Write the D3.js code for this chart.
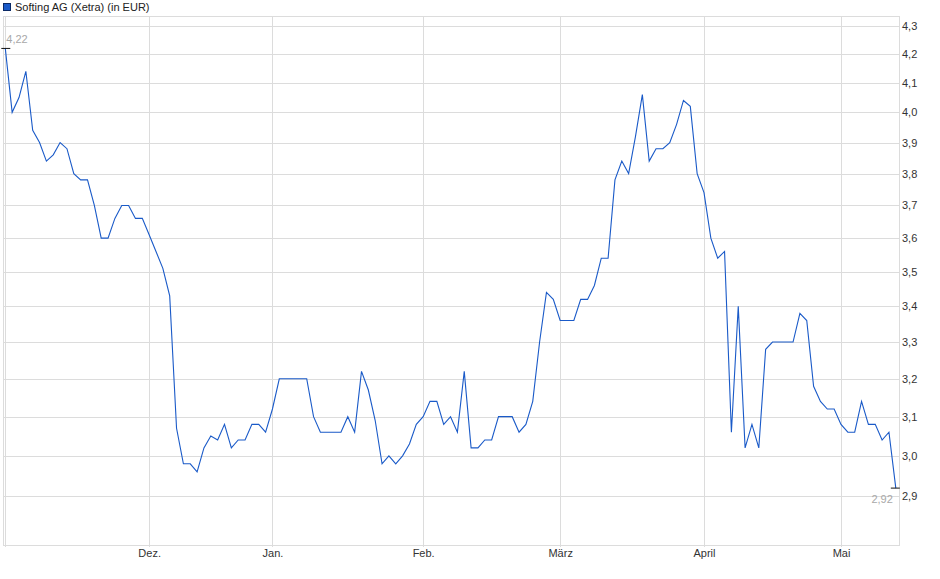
<!DOCTYPE html>
<html>
<head>
<meta charset="utf-8">
<script src="https://cdn.jsdelivr.net/npm/d3@7"></script>
<style>
    body { margin: 0; background: #fff; }
    svg { display: block; font-family: "Liberation Sans", Arial, sans-serif; }
    .grid-line { stroke: #dcdcdc; stroke-width: 1; shape-rendering: crispEdges; }
    .frame { fill: none; stroke: #dcdcdc; stroke-width: 1; shape-rendering: crispEdges; }
    .axis text { fill: #333; font-size: 11px; }
    .axis path, .axis line { display: none; }
    .price-line { fill: none; stroke: #1a5ac8; stroke-width: 1.1; }
    .mark-label { fill: #a8a8a8; font-size: 11px; }
</style>
</head>
<body>
<div id="chart"></div>
<script>
// Softing AG (Xetra), daily closes, 01.11. - 14.05. (trading days)
const title = "Softing AG (Xetra) (in EUR)";

const closes = [
    4.22, 4.00, 4.05, 4.14, 3.94, 3.90, 3.84, 3.86, 3.90, 3.88,
    3.80, 3.78, 3.78, 3.70, 3.60, 3.60, 3.66, 3.70, 3.70, 3.66,
    3.66, 3.61, 3.56, 3.51, 3.43, 3.07, 2.98, 2.98, 2.96, 3.02,
    3.05, 3.04, 3.08, 3.02, 3.04, 3.04, 3.08, 3.08, 3.06, 3.12,
    3.20, 3.20, 3.20, 3.20, 3.20, 3.10, 3.06, 3.06, 3.06, 3.06,
    3.10, 3.06, 3.22, 3.17, 3.09, 2.98, 3.00, 2.98, 3.00, 3.03,
    3.08, 3.10, 3.14, 3.14, 3.08, 3.10, 3.06, 3.22, 3.02, 3.02,
    3.04, 3.04, 3.10, 3.10, 3.10, 3.06, 3.08, 3.14, 3.30, 3.44,
    3.42, 3.36, 3.36, 3.36, 3.42, 3.42, 3.46, 3.54, 3.54, 3.78,
    3.84, 3.80, 3.92, 4.06, 3.84, 3.88, 3.88, 3.90, 3.96, 4.04,
    4.02, 3.80, 3.74, 3.60, 3.54, 3.56, 3.06, 3.40, 3.02, 3.08,
    3.02, 3.28, 3.30, 3.30, 3.30, 3.30, 3.38, 3.36, 3.18, 3.14,
    3.12, 3.12, 3.08, 3.06, 3.06, 3.14, 3.08, 3.08, 3.04, 3.06,
    2.92
];

// first trading day of each month (index into closes)
const monthStarts = [0, 21, 39, 61, 81, 102, 122];
const monthLabels = ["", "Dez.", "Jan.", "Feb.", "März", "April", "Mai"];

const priceTicks = [2.9, 3.0, 3.1, 3.2, 3.3, 3.4, 3.5, 3.6, 3.7, 3.8, 3.9, 4.0, 4.1, 4.2, 4.3];

const width = 940, height = 579;
const plot = { left: 3, right: 899, top: 16, bottom: 545 };

const svg = d3.select("#chart").append("svg")
    .attr("width", width)
    .attr("height", height);

const x = d3.scaleLinear()
    .domain([0, closes.length - 1])
    .range([5.3, 895.8]);

// log price axis
const y = d3.scaleLog()
    .domain([2.9, 4.3])
    .range([496.3, 26]);

const fmt = v => d3.format(".1f")(v).replace(".", ",");
const fmt2 = v => d3.format(".2f")(v).replace(".", ",");

// grid
svg.append("g").selectAll("line")
    .data(priceTicks)
    .enter().append("line")
    .attr("class", "grid-line")
    .attr("x1", plot.left)
    .attr("x2", plot.right)
    .attr("y1", d => Math.round(y(d)) + 0.5)
    .attr("y2", d => Math.round(y(d)) + 0.5);

svg.append("g").selectAll("line")
    .data(monthStarts)
    .enter().append("line")
    .attr("class", "grid-line")
    .attr("x1", d => Math.round(x(d)) + 0.5)
    .attr("x2", d => Math.round(x(d)) + 0.5)
    .attr("y1", plot.top)
    .attr("y2", plot.bottom + 2);

svg.append("rect")
    .attr("class", "frame")
    .attr("x", plot.left + 0.5)
    .attr("y", plot.top + 0.5)
    .attr("width", plot.right - plot.left)
    .attr("height", plot.bottom - plot.top);

// axes
const yAxis = d3.axisRight(y)
    .tickValues(priceTicks)
    .tickFormat(fmt)
    .tickSize(0)
    .tickPadding(3);

svg.append("g")
    .attr("class", "axis y-axis")
    .attr("transform", "translate(" + plot.right + ",0)")
    .call(yAxis);

const xAxis = d3.axisBottom(x)
    .tickValues(monthStarts)
    .tickFormat((d, i) => monthLabels[i])
    .tickSize(0)
    .tickPadding(4);

svg.append("g")
    .attr("class", "axis x-axis")
    .attr("transform", "translate(0," + plot.bottom + ")")
    .call(xAxis);

// price line
const line = d3.line()
    .x((d, i) => x(i))
    .y(d => y(d));

svg.append("path")
    .datum(closes)
    .attr("class", "price-line")
    .attr("d", line);

// first / last markers
const first = closes[0], last = closes[closes.length - 1];

svg.append("line")
    .attr("x1", x(0) - 4).attr("x2", x(0) + 5)
    .attr("y1", y(first)).attr("y2", y(first))
    .attr("stroke", "#111");
svg.append("text")
    .attr("class", "mark-label")
    .attr("x", x(0) + 1)
    .attr("y", y(first) - 5)
    .text(fmt2(first));

const lastI = closes.length - 1;
svg.append("line")
    .attr("x1", x(lastI) - 5).attr("x2", x(lastI) + 4)
    .attr("y1", y(last)).attr("y2", y(last))
    .attr("stroke", "#111");
svg.append("text")
    .attr("class", "mark-label")
    .attr("x", x(lastI) - 3)
    .attr("y", y(last) + 15)
    .attr("text-anchor", "end")
    .text(fmt2(last));

// legend
const legend = svg.append("g").attr("transform", "translate(3,3)");
legend.append("rect")
    .attr("x", 0.5).attr("y", 0.5)
    .attr("width", 7).attr("height", 7)
    .attr("fill", "#1a5ac8")
    .attr("stroke", "#0b2a66");
legend.append("text")
    .attr("x", 12)
    .attr("y", 8)
    .attr("fill", "#222")
    .style("font-size", "11px")
    .text(title);
</script>
</body>
</html>
